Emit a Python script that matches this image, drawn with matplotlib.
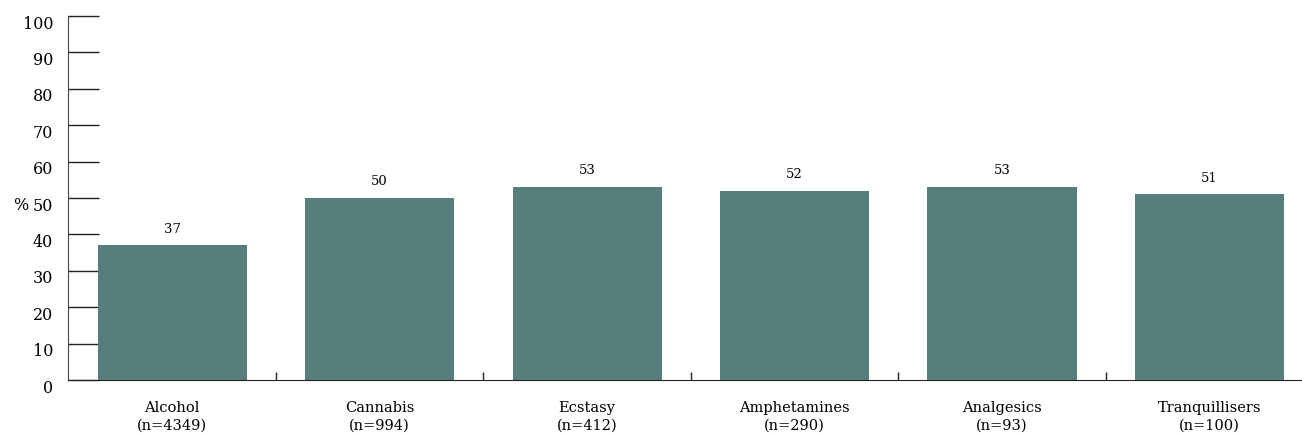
import matplotlib
matplotlib.use('Agg')
import matplotlib.pyplot as plt
import matplotlib.transforms as mtransforms
import numpy as np

drugs = ['Alcohol', 'Cannabis', 'Ecstasy', 'Amphetamines', 'Analgesics', 'Tranquillisers']
n_sizes = [4349, 994, 412, 290, 93, 100]
percent = [37, 50, 53, 52, 53, 51]

plt.rcParams['font.family'] = ['DejaVu Serif']

x = np.arange(len(drugs))  # category positions
labels = ['{}\n(n={})'.format(d, n) for d, n in zip(drugs, n_sizes)]

fig = plt.figure(figsize=(13.02, 4.36), dpi=100)
ax = fig.add_axes([0.0526, 0.1284, 0.9474, 0.8349])

bars = ax.bar(x, percent, 0.72, color='#587e7c', zorder=3)
ax.bar_label(bars, padding=7, fontsize=9.5)

ax.set_xlim(-0.5, 5.445)
ax.set_ylim(0, 100)
ax.set_yticks(np.arange(0, 101, 10))
ax.set_axisbelow(True)

ax.set_xticks(x)
ax.set_xticklabels(labels, fontsize=10.5, linespacing=1.35)
ax.set_xticks(x[:-1] + 0.5, minor=True)
ax.tick_params(axis='x', which='major', length=0, pad=15)
ax.tick_params(axis='x', which='minor', direction='in', length=6, width=1, color='#222222')
ax.tick_params(axis='y', direction='in', length=22, width=1, pad=11, labelsize=11.5, color='#222222')

# y tick labels sit a little below their ticks in the original
shift = mtransforms.ScaledTranslation(0, -6 / 100, fig.dpi_scale_trans)
for lab in ax.get_yticklabels():
    lab.set_transform(lab.get_transform() + shift)

ax.set_ylabel('%', rotation=0, fontsize=11.5, va='center', ha='center')
ax.yaxis.set_label_coords(-0.039, 0.48)

for side in ['top', 'right']:
    ax.spines[side].set_visible(False)
ax.spines['left'].set_color('#444444')
ax.spines['bottom'].set_color('#222222')

fig.savefig('out.png', dpi=100)
